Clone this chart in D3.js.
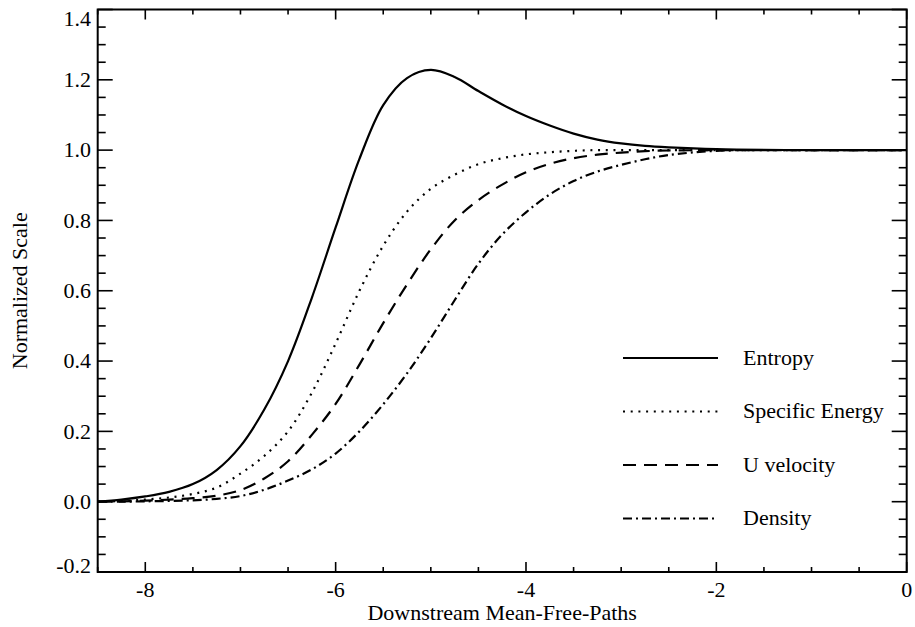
<!DOCTYPE html>
<html>
<head>
<meta charset="utf-8">
<script src="https://cdn.jsdelivr.net/npm/d3@7/dist/d3.min.js"></script>
<style>
  html, body { margin: 0; padding: 0; background: #fff; }
  svg { display: block; }
</style>
</head>
<body>
<svg id="chart" width="915" height="627"></svg>
<script>
// Distance downstream (mean-free-paths) at which each profile is sampled
const xPos = [-8.5, -8.25, -8.0, -7.75, -7.5, -7.25, -7.0, -6.75, -6.5, -6.25, -6.0, -5.75, -5.5, -5.25,
              -5.0, -4.75, -4.5, -4.25, -4.0, -3.75, -3.5, -3.25, -3.0, -2.75, -2.5, -2.0, -1.0, 0.0];

// Normalized profiles across the shock
const entropy        = [0.0, 0.006, 0.015, 0.028, 0.05, 0.09, 0.158, 0.262, 0.4, 0.58, 0.78, 0.975, 1.128, 1.205,
                        1.228, 1.208, 1.168, 1.13, 1.097, 1.07, 1.047, 1.03, 1.019, 1.012, 1.008, 1.003, 1.0, 1.0];
const specificEnergy = [0.0, 0.002, 0.006, 0.012, 0.022, 0.04, 0.08, 0.13, 0.2, 0.31, 0.45, 0.6, 0.728, 0.825,
                        0.89, 0.93, 0.96, 0.977, 0.988, 0.994, 0.998, 1.0, 1.0, 1.0, 1.0, 1.0, 1.0, 1.0];
const uVelocity      = [0.0, 0.001, 0.003, 0.006, 0.01, 0.017, 0.033, 0.066, 0.115, 0.19, 0.278, 0.39, 0.508, 0.618,
                        0.718, 0.8, 0.858, 0.902, 0.937, 0.961, 0.977, 0.987, 0.993, 0.997, 0.999, 1.0, 1.0, 1.0];
const density        = [0.0, 0.0, 0.001, 0.002, 0.004, 0.008, 0.016, 0.034, 0.06, 0.092, 0.137, 0.2, 0.277, 0.365,
                        0.465, 0.573, 0.677, 0.76, 0.823, 0.874, 0.912, 0.939, 0.958, 0.974, 0.986, 0.998, 1.0, 1.0];

const seriesNames = ["Entropy", "Specific Energy", "U velocity", "Density"];
const seriesDash  = [null, "2,5.7", "13,8", "9,4,2,4"];

// Axis ticks
const xMajor  = [-8, -6, -4, -2, 0];
const xLabels = ["-8", "-6", "-4", "-2", "0"];
const yMajor  = [-0.2, 0.0, 0.2, 0.4, 0.6, 0.8, 1.0, 1.2, 1.4];
const yLabels = ["-0.2", "0.0", "0.2", "0.4", "0.6", "0.8", "1.0", "1.2", "1.4"];

const FONT = "'Liberation Serif', 'DejaVu Serif', 'Times New Roman', serif";

const svg = d3.select("#chart");
const plotL = 97.7, plotR = 906.7, plotT = 9.5, plotB = 572;

const x = d3.scaleLinear().domain([-8.5, 0]).range([plotL, plotR]);
const y = d3.scaleLinear().domain([-0.2, 1.4]).range([plotB, plotT]);

const xMinor = d3.range(-8.5, 0.001, 0.5).filter(v => !xMajor.some(m => Math.abs(m - v) < 1e-6));
const yMinor = d3.range(-0.2, 1.4001, 0.05).filter(v => !yMajor.some(m => Math.abs(m - v) < 1e-6));

const g = svg.append("g");

// Frame
g.append("rect")
  .attr("x", plotL).attr("y", plotT)
  .attr("width", plotR - plotL).attr("height", plotB - plotT)
  .attr("fill", "none").attr("stroke", "#000").attr("stroke-width", 2);

// Tick marks on all four sides
function vTicks(vals, len) {
  vals.forEach(v => {
    const px = x(v);
    g.append("line").attr("x1", px).attr("x2", px).attr("y1", plotB).attr("y2", plotB - len)
      .attr("stroke", "#000").attr("stroke-width", 1.6);
    g.append("line").attr("x1", px).attr("x2", px).attr("y1", plotT).attr("y2", plotT + len)
      .attr("stroke", "#000").attr("stroke-width", 1.6);
  });
}
function hTicks(vals, len) {
  vals.forEach(v => {
    const py = y(v);
    g.append("line").attr("x1", plotL).attr("x2", plotL + len).attr("y1", py).attr("y2", py)
      .attr("stroke", "#000").attr("stroke-width", 1.6);
    g.append("line").attr("x1", plotR).attr("x2", plotR - len).attr("y1", py).attr("y2", py)
      .attr("stroke", "#000").attr("stroke-width", 1.6);
  });
}
vTicks(xMajor, 10);
vTicks(xMinor, 5);
hTicks(yMajor, 15);
hTicks(yMinor, 8);

// Tick labels
g.selectAll(".xl").data(xMajor).enter().append("text")
  .attr("x", d => x(d)).attr("y", 597)
  .attr("text-anchor", "middle").attr("font-size", 22).attr("font-family", FONT)
  .text((d, i) => xLabels[i]);

// The end labels are nudged inward so they stay inside the frame height
g.selectAll(".yl").data(yMajor).enter().append("text")
  .attr("x", 91)
  .attr("y", d => y(d) + (d >= 1.4 ? 9 : d <= -0.2 ? -6 : 0))
  .attr("dy", "0.33em")
  .attr("text-anchor", "end").attr("font-size", 22).attr("font-family", FONT)
  .text((d, i) => yLabels[i]);

// Axis titles
g.append("text").attr("x", (plotL + plotR) / 2).attr("y", 620)
  .attr("text-anchor", "middle").attr("font-size", 22).attr("font-family", FONT)
  .text("Downstream Mean-Free-Paths");

g.append("text")
  .attr("transform", `translate(27,${(plotT + plotB) / 2}) rotate(-90)`)
  .attr("text-anchor", "middle").attr("font-size", 22).attr("font-family", FONT)
  .text("Normalized Scale");

// Profiles
const allSeries = [entropy, specificEnergy, uVelocity, density];
const line = d3.line()
  .x((d, i) => x(xPos[i]))
  .y(d => y(d))
  .curve(d3.curveCatmullRom.alpha(0.5));

allSeries.forEach((vals, i) => {
  g.append("path")
    .attr("d", line(vals))
    .attr("fill", "none")
    .attr("stroke", "#000")
    .attr("stroke-width", 2.2)
    .attr("stroke-dasharray", seriesDash[i]);
});

// Legend
const legY = [358, 411.5, 465, 518.5];
seriesNames.forEach((name, i) => {
  g.append("line")
    .attr("x1", 623).attr("x2", 718).attr("y1", legY[i]).attr("y2", legY[i])
    .attr("stroke", "#000").attr("stroke-width", 2.2)
    .attr("stroke-dasharray", seriesDash[i]);
  g.append("text")
    .attr("x", 743).attr("y", legY[i]).attr("dy", "0.3em")
    .attr("font-size", 22).attr("font-family", FONT)
    .text(name);
});
</script>
</body>
</html>
